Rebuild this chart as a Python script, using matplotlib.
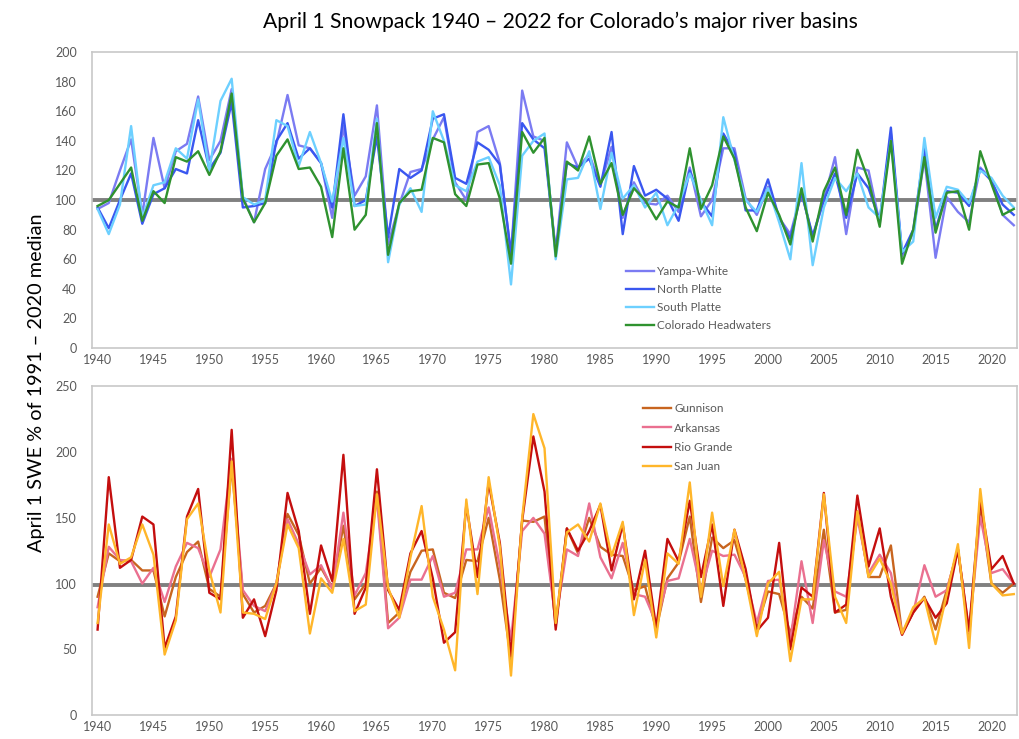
import matplotlib
matplotlib.use("Agg")
import matplotlib.pyplot as plt

years = list(range(1940, 2023))

yampa_white = [94, 98, 120, 141, 90, 142, 108, 133, 138, 170, 127, 140, 175, 102, 85, 121, 138, 171, 137, 135,
               125, 88, 150, 103, 116, 164, 70, 97, 119, 121, 141, 156, 112, 100, 146, 150, 125, 63, 174, 143, 140,
               65, 139, 122, 131, 110, 136, 88, 112, 98, 97, 103, 92, 122, 89, 100, 135, 135, 101, 90, 109,
               88, 77, 105, 75, 100, 129, 77, 122, 120, 84, 145, 62, 78, 128, 61, 102, 92, 85, 122, 114, 90, 83]
north_platte = [95, 81, 100, 118, 84, 104, 108, 121, 118, 154, 121, 132, 166, 95, 96, 98, 140, 152, 128, 135,
                125, 95, 158, 96, 100, 143, 75, 121, 115, 120, 155, 158, 115, 111, 139, 134, 124, 64, 152, 141, 135,
                65, 125, 122, 128, 109, 146, 77, 123, 103, 107, 101, 86, 120, 99, 89, 145, 132, 93, 93, 114,
                88, 74, 105, 76, 100, 118, 88, 118, 108, 86, 149, 64, 80, 135, 80, 106, 105, 96, 121, 113, 97, 90]
south_platte = [94, 77, 97, 150, 88, 110, 112, 135, 128, 168, 120, 167, 182, 102, 97, 100, 154, 150, 123, 146,
                125, 99, 142, 96, 97, 155, 58, 97, 108, 92, 160, 140, 110, 106, 126, 129, 110, 43, 130, 140, 145,
                60, 114, 115, 133, 94, 132, 101, 110, 95, 105, 83, 97, 118, 100, 83, 156, 127, 100, 92, 108,
                85, 60, 125, 56, 95, 115, 106, 118, 95, 88, 140, 65, 72, 142, 88, 109, 107, 98, 120, 115, 103, 95]
colorado_hw = [96, 100, 111, 122, 86, 106, 98, 129, 126, 133, 117, 133, 172, 101, 85, 98, 130, 141, 121, 122,
               109, 75, 135, 80, 90, 152, 63, 98, 106, 107, 142, 139, 104, 96, 124, 125, 101, 57, 146, 132, 142,
               62, 126, 120, 143, 111, 125, 90, 108, 100, 87, 99, 95, 135, 94, 110, 143, 128, 95, 79, 105,
               90, 70, 108, 72, 106, 122, 90, 134, 113, 82, 140, 57, 80, 129, 78, 105, 106, 80, 133, 111, 90, 94]

gunnison = [90, 123, 117, 118, 110, 110, 75, 105, 124, 132, 96, 90, 190, 92, 78, 83, 100, 153, 137, 100,
            112, 97, 144, 88, 100, 170, 70, 78, 109, 125, 126, 93, 89, 118, 117, 150, 103, 42, 148, 147, 151,
            68, 142, 123, 150, 128, 122, 121, 95, 98, 65, 104, 116, 151, 86, 135, 127, 133, 103, 67, 94,
            92, 62, 90, 81, 141, 78, 80, 155, 105, 105, 129, 62, 78, 90, 65, 95, 126, 60, 160, 100, 93, 100]
arkansas = [82, 128, 118, 117, 100, 112, 86, 113, 131, 127, 105, 126, 195, 95, 83, 79, 100, 149, 130, 107,
            114, 96, 154, 91, 108, 165, 66, 74, 103, 103, 121, 90, 93, 126, 126, 158, 113, 57, 140, 150, 138,
            72, 126, 121, 161, 120, 104, 131, 92, 90, 70, 102, 104, 134, 95, 125, 121, 122, 105, 70, 102,
            103, 57, 117, 70, 133, 94, 90, 150, 108, 122, 108, 62, 78, 114, 90, 95, 126, 63, 151, 108, 111, 100]
rio_grande = [65, 181, 112, 118, 151, 145, 51, 75, 151, 172, 93, 88, 217, 74, 88, 60, 95, 169, 140, 77,
              129, 102, 198, 77, 97, 187, 95, 80, 123, 140, 104, 55, 63, 160, 105, 177, 131, 45, 148, 212, 170,
              65, 142, 125, 140, 160, 110, 145, 88, 125, 66, 134, 117, 163, 105, 145, 83, 141, 111, 64, 74,
              131, 50, 97, 90, 169, 78, 84, 167, 113, 142, 90, 61, 78, 89, 74, 85, 126, 64, 164, 111, 121, 100]
san_juan = [70, 145, 115, 120, 145, 122, 46, 72, 149, 161, 110, 78, 193, 78, 77, 73, 100, 145, 127, 62,
            104, 93, 134, 79, 84, 168, 97, 74, 120, 159, 90, 65, 34, 164, 92, 181, 128, 30, 150, 229, 203,
            70, 139, 145, 132, 161, 121, 147, 76, 118, 59, 123, 115, 177, 90, 154, 98, 141, 103, 60, 100,
            109, 41, 88, 88, 168, 90, 70, 155, 105, 119, 100, 62, 82, 89, 54, 92, 130, 51, 172, 100, 91, 92]

top_names = ["Yampa-White", "North Platte", "South Platte", "Colorado Headwaters"]
top_colors = ["#7b7bf2", "#3a57f0", "#6dd0ff", "#2f922f"]
bot_names = ["Gunnison", "Arkansas", "Rio Grande", "San Juan"]
bot_colors = ["#c8651f", "#ea7090", "#c40e0e", "#ffb62a"]

x_ticks = list(range(1940, 2021, 5))
ref_lines = [100, 99]

plt.rcParams['font.family'] = ['Lato', 'DejaVu Sans']

fig = plt.figure(figsize=(10.2, 7.39), dpi=100)
ax1 = fig.add_axes([0.0902, 0.529, 0.907, 0.4005])
ax2 = fig.add_axes([0.0902, 0.0325, 0.907, 0.4445])

def style(ax, ylim, yt, ref):
    ax.set_xlim(1939.5, 2022.3)
    ax.set_ylim(*ylim)
    ax.set_yticks(yt)
    ax.set_xticks(x_ticks)
    for s in ax.spines.values():
        s.set_color("#c8c8c8")
        s.set_linewidth(1.2)
    ax.tick_params(length=0, labelsize=9, labelcolor="#595959")
    ax.tick_params(axis='y', pad=11)
    ax.tick_params(axis='x', pad=4)
    ax.axhline(ref, color="#808080", lw=2.8, zorder=1)

style(ax1, (0, 200), list(range(0, 201, 20)), ref_lines[0])
style(ax2, (0, 250), list(range(0, 251, 50)), ref_lines[1])

for name, vals, c in zip(top_names, [yampa_white, north_platte, south_platte, colorado_hw], top_colors):
    ax1.plot(years, vals, color=c, lw=1.7, label=name, zorder=2)
for name, vals, c in zip(bot_names, [gunnison, arkansas, rio_grande, san_juan], bot_colors):
    ax2.plot(years, vals, color=c, lw=1.7, label=name, zorder=2)

leg_kw = dict(frameon=False, fontsize=8.5, handlelength=2.35, handletextpad=0.25,
              labelcolor="#595959", borderaxespad=0)
ax1.legend(loc="upper left", bbox_to_anchor=(0.572, 0.293), labelspacing=0.6, **leg_kw)
ax2.legend(loc="upper left", bbox_to_anchor=(0.591, 0.963), labelspacing=0.69, **leg_kw)

fig.text(0.549, 0.970, "April 1 Snowpack 1940 \u2013 2022 for Colorado\u2019s major river basins",
         ha="center", va="center", fontsize=15.2, color="#000000")
fig.text(0.036, 0.482, "April 1 SWE % of 1991 \u2013 2020 median", rotation=90,
         ha="center", va="center", fontsize=14.3, color="#000000")

fig.savefig("out.png", dpi=100)
